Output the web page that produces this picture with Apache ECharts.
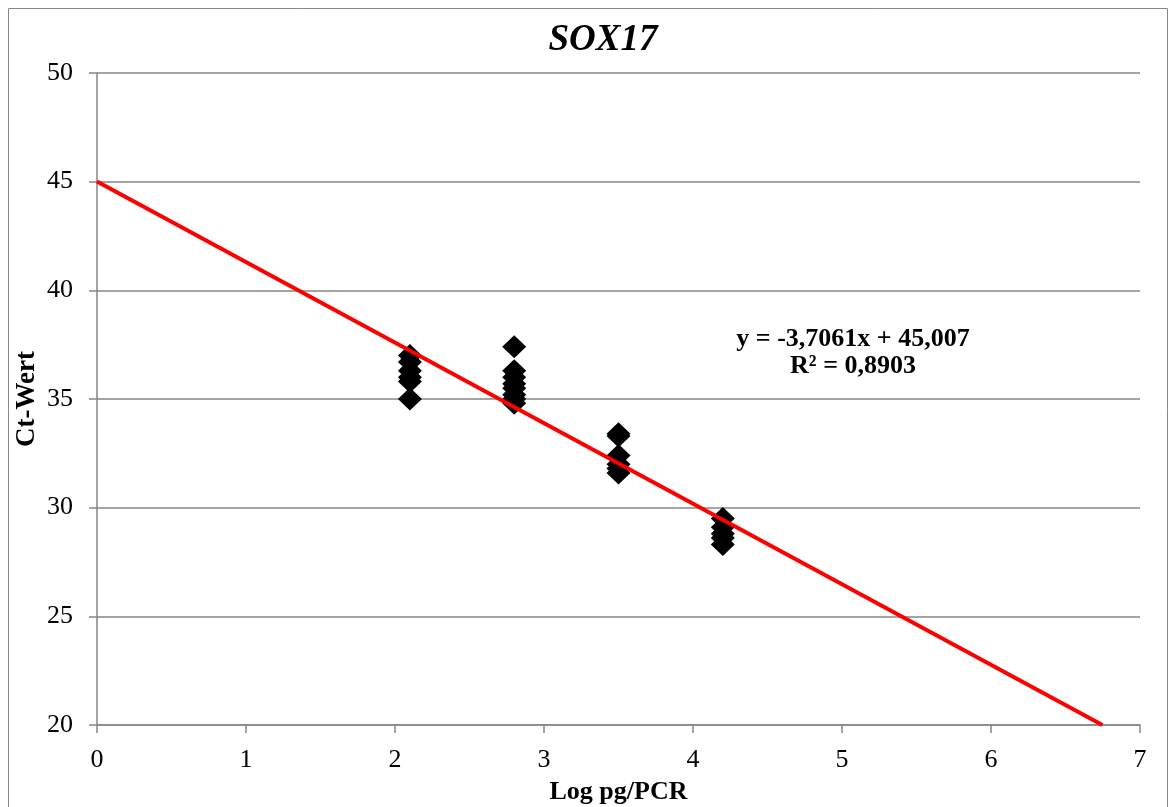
<!DOCTYPE html>
<html><head><meta charset="utf-8">
<script src="https://cdn.jsdelivr.net/npm/echarts@6/dist/echarts.min.js"></script>
<style>html,body{margin:0;padding:0;background:#fff}#c{width:1176px;height:807px}</style>
</head><body><div id="c"></div>
<script>
const xs1 = [2.1, 2.1, 2.1, 2.1, 2.1, 2.1];
const ys1 = [37.0, 36.7, 36.3, 36.0, 35.8, 35.0];
const xs2 = [2.8, 2.8, 2.8, 2.8, 2.8, 2.8, 2.8, 2.8];
const ys2 = [37.4, 36.3, 36.0, 35.7, 35.5, 35.2, 35.0, 34.8];
const xs3 = [3.5, 3.5, 3.5, 3.5, 3.5, 3.5];
const ys3 = [33.4, 33.3, 32.4, 32.0, 31.8, 31.6];
const xs4 = [4.2, 4.2, 4.2, 4.2, 4.2];
const ys4 = [29.5, 29.1, 28.8, 28.6, 28.3];
const slope = -3.7061, intercept = 45.007;
const trendX = [0, (20 - intercept) / slope];
const xTicks = [0, 1, 2, 3, 4, 5, 6, 7];
const yTicks = [20, 25, 30, 35, 40, 45, 50];

const pts = [];
[[xs1, ys1], [xs2, ys2], [xs3, ys3], [xs4, ys4]].forEach(([a, b]) => a.forEach((x, i) => pts.push([x, b[i]])));
const trend = trendX.map(x => [x, slope * x + intercept]);

const serif = '"Liberation Serif", "DejaVu Serif", serif';
const chart = echarts.init(document.getElementById('c'), null, {renderer: 'canvas'});
chart.setOption({
  animation: false,
  backgroundColor: '#fff',
  title: {
    text: 'SOX17', left: 598, textAlign: 'center', top: 17,
    textStyle: {fontFamily: serif, fontSize: 37, fontWeight: 'bold', fontStyle: 'italic', color: '#000'}
  },
  graphic: [
    {type: 'rect', shape: {x: 8.5, y: 8.5, width: 1159, height: 810}, style: {fill: 'none', stroke: '#888', lineWidth: 1}, silent: true},
    {type: 'text', x: 853, y: 339, style: {text: 'y = -3,7061x + 45,007', font: 'bold 26px ' + serif, fill: '#000', textAlign: 'center', textVerticalAlign: 'middle'}},
    {type: 'text', x: 853, y: 366, style: {text: 'R² = 0,8903', font: 'bold 26px ' + serif, fill: '#000', textAlign: 'center', textVerticalAlign: 'middle'}}
  ],
  grid: {left: 97, right: 36, top: 73, bottom: 82, containLabel: false, outerBoundsMode: 'none'},
  xAxis: {
    type: 'value', min: 0, max: 7, interval: 1,
    name: 'Log pg/PCR', nameLocation: 'middle', nameGap: 54, nameMoveOverlap: false,
    nameTextStyle: {fontFamily: serif, fontSize: 26, fontWeight: 'bold', color: '#000'},
    axisLine: {lineStyle: {color: '#868686', width: 1.5}},
    axisTick: {show: true, length: 8, lineStyle: {color: '#868686', width: 1.5}},
    axisLabel: {fontFamily: serif, fontSize: 26, color: '#000', margin: 22},
    splitLine: {show: false}
  },
  yAxis: {
    type: 'value', min: 20, max: 50, interval: 5,
    name: 'Ct-Wert', nameLocation: 'middle', nameGap: 56, nameMoveOverlap: false,
    nameTextStyle: {fontFamily: serif, fontSize: 27, fontWeight: 'bold', color: '#000'},
    axisLine: {show: true, lineStyle: {color: '#868686', width: 1.5}},
    axisTick: {show: true, length: 8, lineStyle: {color: '#868686', width: 1.5}},
    axisLabel: {fontFamily: serif, fontSize: 26, color: '#000', margin: 24},
    splitLine: {show: true, lineStyle: {color: '#868686', width: 1.5}}
  },
  series: [
    {type: 'scatter', data: pts, symbol: 'diamond', symbolSize: [24, 23], itemStyle: {color: '#000', opacity: 1}, z: 3},
    {type: 'line', data: trend, symbol: 'none', lineStyle: {color: '#ff0000', width: 4}, z: 4}
  ]
});
</script></body></html>
